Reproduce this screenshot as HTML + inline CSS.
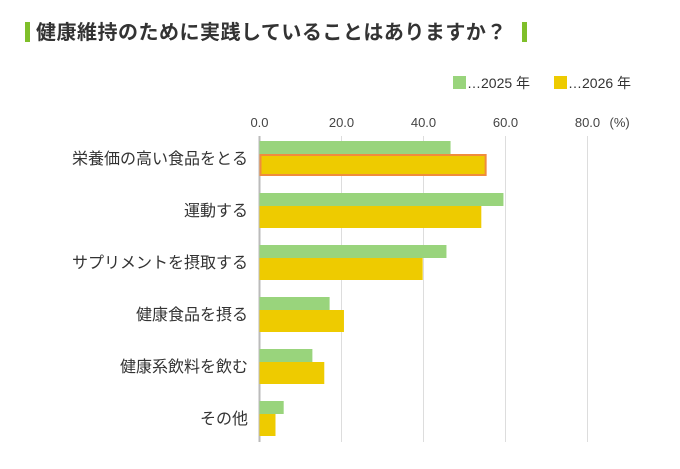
<!DOCTYPE html>
<html><head><meta charset="utf-8"><style>
body{margin:0;background:#fff;width:680px;height:464px;overflow:hidden;font-family:"Liberation Sans","Noto Sans CJK JP",sans-serif;}
</style></head><body>
<svg id="chart" width="680" height="464" style="font-family:'Liberation Sans','Noto Sans CJK JP',sans-serif">
<rect x="25" y="22" width="5" height="20" fill="#7fbf2a"/>
<text x="36" y="39" font-size="20" font-weight="bold" fill="#333" letter-spacing="0.5">健康維持のために実践していることはありますか？</text>
<rect x="522" y="22" width="5" height="20" fill="#7fbf2a"/>
<g>
<rect x="453" y="76" width="13" height="13" fill="#99d47c"/>
<text x="467" y="88" font-size="14" fill="#333">…2025 年</text>
<rect x="554" y="76" width="13" height="13" fill="#eecb00"/>
<text x="568" y="88" font-size="14" fill="#333">…2026 年</text>
</g>
<g id="grid"></g><g id="bars"></g><g id="labels"></g>
</svg>
<script>
const categories=["栄養価の高い食品をとる","運動する","サプリメントを摂取する","健康食品を摂る","健康系飲料を飲む","その他"];
const values2025=[46.6,59.5,45.6,17.1,12.9,5.9];
const values2026=[55.4,54.1,39.8,20.6,15.8,3.9];
const ticks=[0,20,40,60,80];
const tickLabels=["0.0","20.0","40.0","60.0","80.0"];
const NS="http://www.w3.org/2000/svg";
const x=v=>259.5+v*4.1;
const groupY=i=>141+i*52;
function mk(t,a,p){const e=document.createElementNS(NS,t);for(const k in a)e.setAttribute(k,a[k]);p.appendChild(e);return e;}
const grid=document.getElementById('grid'),bars=document.getElementById('bars'),labels=document.getElementById('labels');
ticks.forEach((t,i)=>{
 const l=mk('line',{x1:x(t),x2:x(t),y1:136,y2:442,stroke:i==0?'#bbb':'#ddd','stroke-width':i==0?2:1},grid);
 
 
 const tx=mk('text',{x:x(t),y:127,'font-size':13,fill:'#444','text-anchor':'middle'},grid);
 tx.textContent=tickLabels[i];
 
 
});
const pc=mk('text',{x:x(80)+22,y:127,'font-size':13,fill:'#444'},grid);pc.textContent='(%)';


categories.forEach((c,i)=>{
 const y=groupY(i);
 const g=mk('rect',{x:x(0),y:y,width:x(values2025[i])-x(0),height:13,fill:'#99d47c'},bars);
 
 
 const attrs={x:x(0),y:y+13,width:x(values2026[i])-x(0),height:22,fill:'#eecb00'};
 if(i==0){attrs.x=x(0)+1;attrs.y=y+14;attrs.width-=2;attrs.height=20;attrs.stroke='#f08c3c';attrs['stroke-width']=2;}
 const b=mk('rect',attrs,bars);
 
 
 const t=mk('text',{x:248,y:y+23,'font-size':16,fill:'#333','text-anchor':'end'},labels);
 t.textContent=c;
 
 
});
</script>
</body></html>
